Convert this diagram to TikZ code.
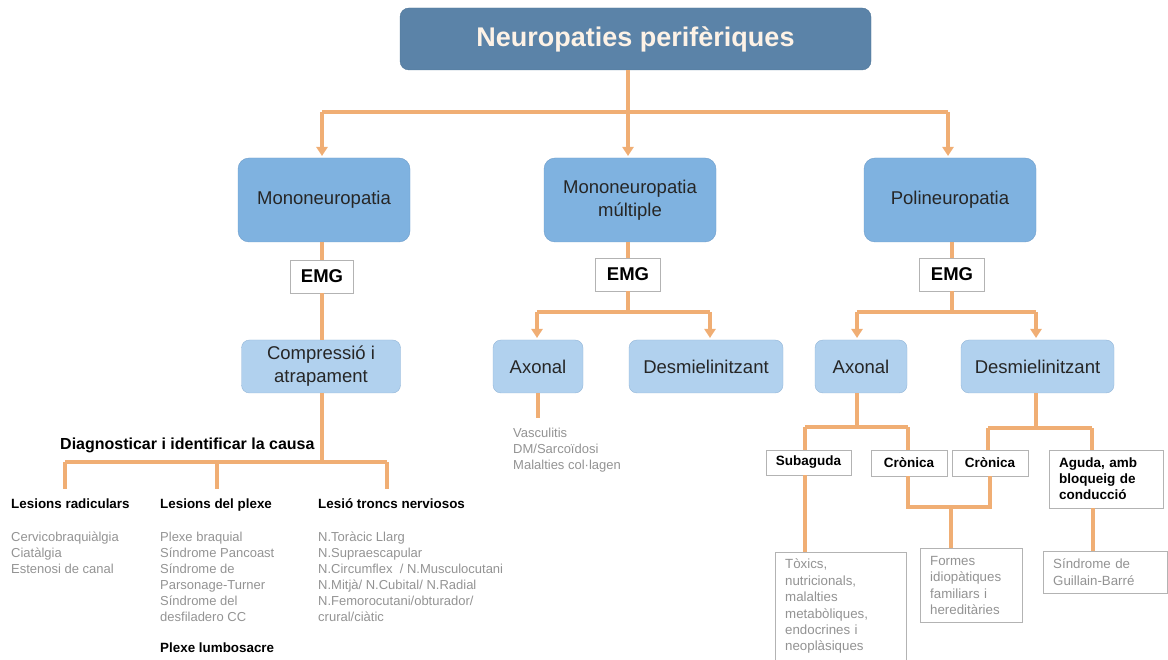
\documentclass[tikz,border=0pt]{standalone}
\usepackage{fontspec}
\setmainfont{Liberation Sans}
\usetikzlibrary{arrows.meta}
\definecolor{conc}{HTML}{F0AE74}
\definecolor{titlefill}{HTML}{5B83A8}
\definecolor{titledraw}{HTML}{4F7598}
\definecolor{bluefill}{HTML}{7FB2E0}
\definecolor{bluedraw}{HTML}{6E9DCB}
\definecolor{lbluefill}{HTML}{B1D1EE}
\definecolor{lbluedraw}{HTML}{93B6D8}
\definecolor{greytext}{HTML}{939393}
\definecolor{boxgrey}{HTML}{B3B3B3}
\definecolor{titletext}{HTML}{FDF2E6}
\begin{document}
\begin{tikzpicture}[x=1pt,y=-1pt,
  conn/.style={draw=conc, line width=3.4pt},
  arr/.style={conn, -{Triangle[width=11pt,length=9pt]}, shorten >=2pt},
  titlebox/.style={draw=titledraw, fill=titlefill, rounded corners=9pt, minimum width=471pt, minimum height=62pt, text=titletext, font=\fontsize{27}{31}\selectfont\bfseries},
  bigbox/.style={draw=bluedraw, fill=bluefill, rounded corners=11pt, minimum width=172pt, minimum height=84pt, align=center, text=black!85, font=\fontsize{18.5}{23}\selectfont},
  lbox/.style={draw=lbluedraw, fill=lbluefill, rounded corners=8pt, minimum height=53pt, align=center, text=black!85, font=\fontsize{18.5}{23}\selectfont},
  emgbox/.style={draw=boxgrey, fill=white, minimum height=33pt, font=\fontsize{18.5}{22}\selectfont\bfseries},
  tagbox/.style={draw=boxgrey, fill=white, minimum height=26pt, font=\fontsize{13.5}{16}\selectfont\bfseries},
  head/.style={inner sep=0pt, font=\fontsize{13.4}{16}\selectfont\bfseries},
  greylist/.style={inner sep=0pt, align=left, text=greytext, font=\fontsize{13}{16}\selectfont},
  greybox/.style={draw=boxgrey, fill=white, align=left, text=greytext, inner xsep=10pt, font=\fontsize{13.3}{16.4}\selectfont}
]
\clip (0,0) rectangle (1168,660);
\useasboundingbox (0,0) rectangle (1168,660);

% title and level 1
\node[titlebox] (title) at (635.5,39) {Neuropaties perifèriques};
\node[bigbox] (mono) at (324,200) {Mononeuropatia};
\node[bigbox] (multi) at (630,200) {Mononeuropatia\\múltiple};
\node[bigbox] (poly) at (950,200) {Polineuropatia};

\coordinate (top) at (628,112);
\draw[conn] (title.south -| top) -- (top);
\draw[conn] (top -| 322,0) -- (top -| 948,0);
\draw[arr] (top -| 322,0) -- (322,158);
\draw[arr] (top) -- (628,158);
\draw[arr] (top -| 948,0) -- (948,158);

% EMG boxes
\node[emgbox, minimum width=63pt] (emg1) at (322,276.5) {EMG};
\node[emgbox, minimum width=65pt] (emg2) at (628,274.5) {EMG};
\node[emgbox, minimum width=65pt] (emg3) at (952,274.5) {EMG};

% Mononeuropatia branch
\node[lbox, minimum width=159pt] (comp) at (321,366.5) {Compressió i\\atrapament};
\draw[conn] (mono.south -| emg1) -- (emg1);
\draw[conn] (emg1) -- (emg1 |- comp.north);

\node[head, anchor=base west, font=\fontsize{16}{19}\selectfont\bfseries] (diag) at (60,449) {Diagnosticar i identificar la causa};

\node[head, anchor=base west] (h1) at (11,508) {Lesions radiculars};
\node[head, anchor=base west] (h2) at (160,508) {Lesions del plexe};
\node[head, anchor=base west] (h3) at (318,508) {Lesió troncs nerviosos};

\coordinate (d) at (322,462);
\draw[conn] (emg1 |- comp.south) -- (d);
\draw[conn] (d -| 65,0) -- (d -| 387,0);
\draw[conn] (d -| 65,0) -- (65,489);
\draw[conn] (d -| 217,0) -- (217,489);
\draw[conn] (d -| 387,0) -- (387,489);

\node[greylist, anchor=north west] (l1) at (11,532) {Cervicobraquiàlgia\\Ciatàlgia\\Estenosi de canal};
\node[greylist, anchor=north west] (l2) at (160,532) {Plexe braquial\\Síndrome Pancoast\\Síndrome de\\Parsonage-Turner\\Síndrome del\\desfiladero CC};
\node[head, anchor=base west] (plb) at (160,652) {Plexe lumbosacre};
\node[greylist, anchor=north west] (l3) at (318,532) {N.Toràcic Llarg\\N.Supraescapular\\N.Circumflex \ / N.Musculocutani\\N.Mitjà/ N.Cubital/ N.Radial\\N.Femorocutani/obturador/\\crural/ciàtic};

% Mononeuropatia multiple branch
\node[lbox, minimum width=90pt] (ax1) at (538,366.5) {Axonal};
\node[lbox, minimum width=154pt] (de1) at (706,366.5) {Desmielinitzant};
\coordinate (j2) at (628,312);
\draw[conn] (multi.south -| emg2) -- (emg2);
\draw[conn] (emg2) -- (j2);
\draw[conn] (j2 -| 537,0) -- (j2 -| 710,0);
\draw[arr] (j2 -| 537,0) -- (537,340);
\draw[arr] (j2 -| 710,0) -- (710,340);
\coordinate (v) at (538,418);
\draw[conn] (ax1) -- (v);
\node[greylist, anchor=north west] (vas) at (513,428) {Vasculitis\\DM/Sarcoïdosi\\Malalties col·lagen};

% Polineuropatia branch
\node[lbox, minimum width=92pt] (ax2) at (861,366.5) {Axonal};
\node[lbox, minimum width=153pt] (de2) at (1037.5,366.5) {Desmielinitzant};
\coordinate (j3) at (952,312);
\draw[conn] (poly.south -| emg3) -- (emg3);
\draw[conn] (emg3) -- (j3);
\draw[conn] (j3 -| 857,0) -- (j3 -| 1036,0);
\draw[arr] (j3 -| 857,0) -- (857,340);
\draw[arr] (j3 -| 1036,0) -- (1036,340);

\node[tagbox, minimum width=85pt, minimum height=25pt] (sub) at (808.5,462.5) {Subaguda};
\node[tagbox, minimum width=76pt] (cr1) at (909,463) {Crònica};
\node[tagbox, minimum width=76pt] (cr2) at (990,463) {Crònica};
\node[tagbox, minimum width=114pt, minimum height=58pt, align=left, text width=94pt, inner xsep=10pt] (ag) at (1106,479) {Aguda, amb\\bloqueig de\\conducció};

\coordinate (k1) at (857,427);
\draw[conn] (ax2.south -| k1) -- (k1);
\draw[conn] (k1 -| 805,0) -- (k1 -| 908,0);
\draw[conn] (k1 -| 805,0) -- (805,450);
\draw[conn] (k1 -| 908,0) -- (908,450);

\coordinate (k2) at (1036,428);
\draw[conn] (de2.south -| k2) -- (k2);
\draw[conn] (k2 -| 988,0) -- (k2 -| 1092,0);
\draw[conn] (k2 -| 988,0) -- (988,450);
\draw[conn] (k2 -| 1092,0) -- (1092,450);

\node[greybox, anchor=north west, text width=111pt, inner ysep=7pt] (tox) at (775,552) {Tòxics,\\nutricionals,\\malalties\\metabòliques,\\endocrines i\\neoplàsiques\\[6pt]};
\node[greybox, anchor=north west, text width=82pt, inner ysep=8pt] (form) at (920,548) {Formes\\idiopàtiques\\familiars i\\hereditàries};
\node[greybox, anchor=north west, text width=104pt, inner ysep=8pt] (gb) at (1043,551) {Síndrome de\\Guillain-Barré};

\coordinate (m) at (951,507);
\draw[conn] (cr1.south -| 908,0) -- (908,507) -- (990,507) -- (cr2.south);
\draw[conn] (m) -- (m |- form.north);
\draw[conn] (sub.south -| 805,0) -- (tox.north -| 805,0);
\draw[conn] (ag.south -| 1093,0) -- (gb.north -| 1093,0);
\end{tikzpicture}
\end{document}
